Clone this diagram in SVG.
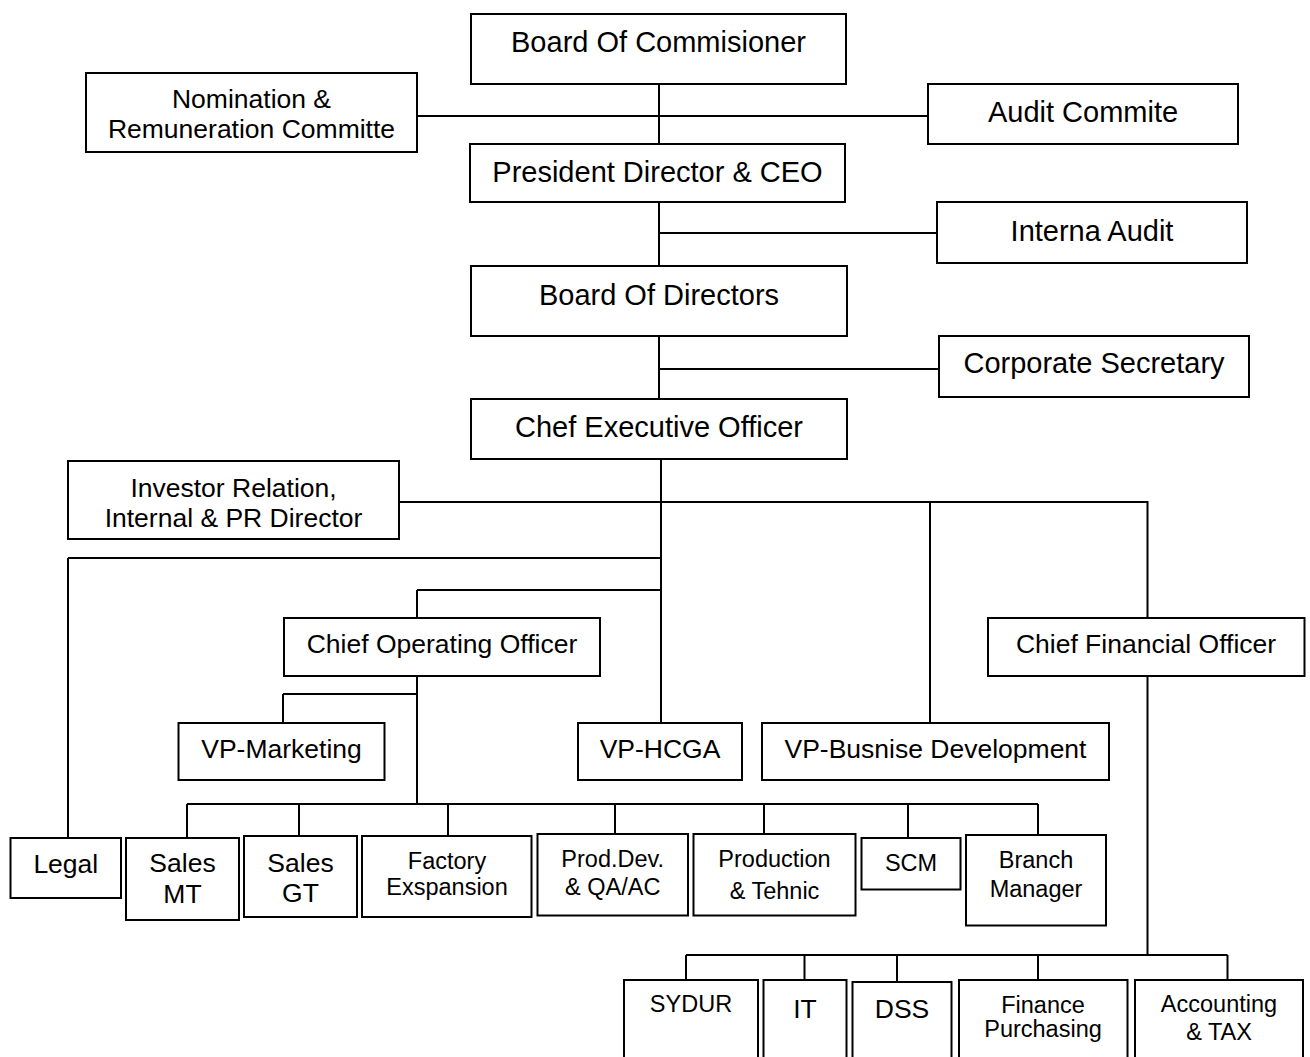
<svg xmlns="http://www.w3.org/2000/svg" width="1310" height="1057" viewBox="0 0 1310 1057">
<style>
.box{fill:#fff;stroke:#000;stroke-width:2}
.ln{fill:none;stroke:#000;stroke-width:2}
text{font-family:"Liberation Sans",Arial,sans-serif;fill:#000;text-anchor:middle}
.l{font-size:29px}
.m{font-size:26.5px}
.s{font-size:23.5px}
</style>
<rect x="0" y="0" width="1310" height="1057" fill="#fff"/>
<g id="connectors">
<path class="ln" d="M659,84 V266 M659,336 V399 M417,116 H928 M659,233 H937 M659,369 H939"/>
<path class="ln" d="M661,459 V723 M399,502 H1147.5 V618 M930,502 V723 M68,558 H661 M417,590 H661 M417,590 V618"/>
<path class="ln" d="M417,676 V804 M283,694 H417 M283,694 V723"/>
<path class="ln" d="M68,558 V838 M187,804 H1038 M187,804 V838 M299,804 V836 M448,804 V836 M615,804 V834 M764,804 V834 M908,804 V838 M1038,804 V835"/>
<path class="ln" d="M1147.5,676 V955 M686,955 H1227.5 M686,955 V980 M804.5,955 V980 M897,955 V982 M1038,955 V980 M1227.5,955 V980"/>
</g>
<g id="board-commisioner"><rect class="box" x="471" y="14" width="375" height="70"/><text class="l" x="658.5" y="52">Board Of Commisioner</text></g>
<g id="nomination"><rect class="box" x="86" y="73" width="331" height="79"/><text class="m" x="251.5" y="108">Nomination &amp;</text><text class="m" x="251.5" y="138">Remuneration Committe</text></g>
<g id="audit-commite"><rect class="box" x="928" y="84" width="310" height="60"/><text class="l" x="1083" y="122">Audit Commite</text></g>
<g id="president"><rect class="box" x="470" y="144" width="375" height="58"/><text class="l" x="657.5" y="182">President Director &amp; CEO</text></g>
<g id="interna-audit"><rect class="box" x="937" y="202" width="310" height="61"/><text class="l" x="1092" y="241">Interna Audit</text></g>
<g id="board-directors"><rect class="box" x="471" y="266" width="376" height="70"/><text class="l" x="659" y="305">Board Of Directors</text></g>
<g id="corporate-secretary"><rect class="box" x="939" y="336" width="310" height="61"/><text class="l" x="1094" y="373">Corporate Secretary</text></g>
<g id="ceo"><rect class="box" x="471" y="399" width="376" height="60"/><text class="l" x="659" y="437">Chef Executive Officer</text></g>
<g id="investor"><rect class="box" x="68" y="461" width="331" height="78"/><text class="m" x="233.5" y="497">Investor Relation,</text><text class="m" x="233.5" y="527">Internal &amp; PR Director</text></g>
<g id="coo"><rect class="box" x="284" y="618" width="316" height="58"/><text class="m" x="442" y="653">Chief Operating Officer</text></g>
<g id="cfo"><rect class="box" x="988" y="618" width="316.5" height="58"/><text class="m" x="1146" y="653">Chief Financial Officer</text></g>
<g id="vp-marketing"><rect class="box" x="178.5" y="723" width="206" height="57"/><text class="m" x="281.5" y="758">VP-Marketing</text></g>
<g id="vp-hcga"><rect class="box" x="578" y="723" width="164" height="57"/><text class="m" x="660" y="758">VP-HCGA</text></g>
<g id="vp-bd"><rect class="box" x="762" y="723" width="347" height="57"/><text class="m" x="935.5" y="758">VP-Busnise Development</text></g>
<g id="legal"><rect class="box" x="10.5" y="838" width="110.5" height="60"/><text class="m" x="65.8" y="873">Legal</text></g>
<g id="sales-mt"><rect class="box" x="126" y="838" width="113" height="82"/><text class="m" x="182.5" y="872">Sales</text><text class="m" x="182.5" y="903">MT</text></g>
<g id="sales-gt"><rect class="box" x="244" y="836" width="113" height="81"/><text class="m" x="300.5" y="872">Sales</text><text class="m" x="300.5" y="902">GT</text></g>
<g id="factory"><rect class="box" x="362" y="836" width="169.5" height="81"/><text class="s" x="447" y="869">Factory</text><text class="s" x="447" y="895">Exspansion</text></g>
<g id="prod-dev"><rect class="box" x="537.5" y="834" width="150.5" height="81.5"/><text class="s" x="612.7" y="867">Prod.Dev.</text><text class="s" x="612.7" y="895">&amp; QA/AC</text></g>
<g id="production"><rect class="box" x="693.5" y="834" width="162" height="81.5"/><text class="s" x="774.5" y="867">Production</text><text class="s" x="774.5" y="899">&amp; Tehnic</text></g>
<g id="scm"><rect class="box" x="861.5" y="838" width="99" height="51.5"/><text class="s" x="911" y="871">SCM</text></g>
<g id="branch"><rect class="box" x="966" y="835" width="140" height="90.5"/><text class="s" x="1036" y="868">Branch</text><text class="s" x="1036" y="897">Manager</text></g>
<g id="sydur"><rect class="box" x="624" y="980" width="134" height="100"/><text class="s" x="691" y="1012">SYDUR</text></g>
<g id="it"><rect class="box" x="763.5" y="980" width="83" height="100"/><text class="m" x="805" y="1018">IT</text></g>
<g id="dss"><rect class="box" x="852.5" y="982" width="99" height="100"/><text class="m" x="902" y="1018">DSS</text></g>
<g id="finance"><rect class="box" x="959" y="980" width="168.5" height="100"/><text class="s" x="1043" y="1013">Finance</text><text class="s" x="1043" y="1037">Purchasing</text></g>
<g id="accounting"><rect class="box" x="1135" y="980" width="168" height="100"/><text class="s" x="1219" y="1012">Accounting</text><text class="s" x="1219" y="1040">&amp; TAX</text></g>
</svg>
